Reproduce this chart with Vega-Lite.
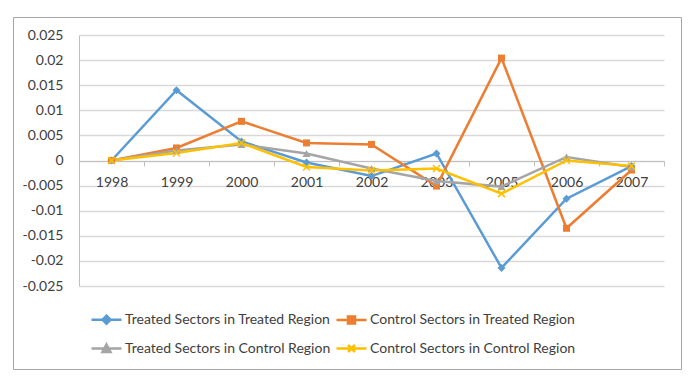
{
  "$schema": "https://vega.github.io/schema/vega-lite/v6.json",
  "width": 668,
  "height": 352,
  "autosize": {"type": "none"},
  "padding": {"left": 13, "top": 17, "right": 15, "bottom": 20},
  "background": "white",
  "config": {
    "view": {"stroke": "#a6a6a6", "strokeWidth": 1},
    "font": "Lato",
    "axis": {"labelFont": "Lato", "labelFontSize": 14, "labelColor": "#404040"},
    "legend": {"labelFont": "Lato", "labelFontSize": 14, "labelColor": "#404040"}
  },
  "data": {
    "values": [
      {"year": "1998", "series": "Treated Sectors in Treated Region", "value": 0},
      {"year": "1999", "series": "Treated Sectors in Treated Region", "value": 0.014},
      {"year": "2000", "series": "Treated Sectors in Treated Region", "value": 0.0038},
      {"year": "2001", "series": "Treated Sectors in Treated Region", "value": -0.0004},
      {"year": "2002", "series": "Treated Sectors in Treated Region", "value": -0.0031},
      {"year": "2003", "series": "Treated Sectors in Treated Region", "value": 0.0014},
      {"year": "2005", "series": "Treated Sectors in Treated Region", "value": -0.0214},
      {"year": "2006", "series": "Treated Sectors in Treated Region", "value": -0.0076},
      {"year": "2007", "series": "Treated Sectors in Treated Region", "value": -0.0011},
      {"year": "1998", "series": "Control Sectors in Treated Region", "value": 0},
      {"year": "1999", "series": "Control Sectors in Treated Region", "value": 0.0025},
      {"year": "2000", "series": "Control Sectors in Treated Region", "value": 0.0078},
      {"year": "2001", "series": "Control Sectors in Treated Region", "value": 0.0035},
      {"year": "2002", "series": "Control Sectors in Treated Region", "value": 0.0032},
      {"year": "2003", "series": "Control Sectors in Treated Region", "value": -0.0051},
      {"year": "2005", "series": "Control Sectors in Treated Region", "value": 0.0204},
      {"year": "2006", "series": "Control Sectors in Treated Region", "value": -0.0135},
      {"year": "2007", "series": "Control Sectors in Treated Region", "value": -0.0019},
      {"year": "1998", "series": "Treated Sectors in Control Region", "value": 0},
      {"year": "1999", "series": "Treated Sectors in Control Region", "value": 0.002},
      {"year": "2000", "series": "Treated Sectors in Control Region", "value": 0.0032},
      {"year": "2001", "series": "Treated Sectors in Control Region", "value": 0.0014},
      {"year": "2002", "series": "Treated Sectors in Control Region", "value": -0.0016},
      {"year": "2003", "series": "Treated Sectors in Control Region", "value": -0.0041},
      {"year": "2005", "series": "Treated Sectors in Control Region", "value": -0.0052},
      {"year": "2006", "series": "Treated Sectors in Control Region", "value": 0.0007},
      {"year": "2007", "series": "Treated Sectors in Control Region", "value": -0.0013},
      {"year": "1998", "series": "Control Sectors in Control Region", "value": 0},
      {"year": "1999", "series": "Control Sectors in Control Region", "value": 0.0015},
      {"year": "2000", "series": "Control Sectors in Control Region", "value": 0.0035},
      {"year": "2001", "series": "Control Sectors in Control Region", "value": -0.0013},
      {"year": "2002", "series": "Control Sectors in Control Region", "value": -0.002},
      {"year": "2003", "series": "Control Sectors in Control Region", "value": -0.0016},
      {"year": "2005", "series": "Control Sectors in Control Region", "value": -0.0066},
      {"year": "2006", "series": "Control Sectors in Control Region", "value": 0},
      {"year": "2007", "series": "Control Sectors in Control Region", "value": -0.0011}
    ]
  },
  "encoding": {
    "x": {
      "field": "year",
      "type": "ordinal",
      "scale": {"type": "band", "range": [66, 651], "paddingInner": 0, "paddingOuter": 0},
      "axis": {
        "title": null,
        "orient": "bottom",
        "offset": -208,
        "labelAngle": 0,
        "domainColor": "#bfbfbf",
        "domainWidth": 1,
        "tickColor": "#bfbfbf",
        "tickSize": 5,
        "tickBand": "extent",
        "labelPadding": 9,
        "grid": false
      }
    },
    "y": {
      "field": "value",
      "type": "quantitative",
      "scale": {"domain": [-0.025, 0.025], "range": [269, 18], "nice": false, "zero": false},
      "axis": {
        "title": null,
        "offset": -66,
        "values": [-0.025, -0.02, -0.015, -0.01, -0.005, 0, 0.005, 0.01, 0.015, 0.02, 0.025],
        "labelExpr": "'' + datum.value",
        "ticks": false,
        "labelPadding": 16,
        "domainColor": "#bfbfbf",
        "grid": true,
        "gridColor": "#d9d9d9",
        "gridWidth": 1.5
      }
    },
    "color": {
      "field": "series",
      "type": "nominal",
      "scale": {
        "domain": ["Treated Sectors in Treated Region", "Control Sectors in Treated Region", "Treated Sectors in Control Region", "Control Sectors in Control Region"],
        "range": ["#5b9bd5", "#ed7d31", "#a5a5a5", "#ffc000"]
      },
      "legend": {
        "title": null,
        "orient": "none",
        "direction": "horizontal",
        "legendX": 74,
        "legendY": 291,
        "columns": 2,
        "columnPadding": 0,
        "rowPadding": 8,
        "padding": 0,
        "labelLimit": 0,
        "symbolSize": 400,
        "symbolStrokeWidth": 2.5,
        "symbolOpacity": 1,
        "symbolOffset": 8,
        "labelOffset": 7
      }
    }
  },
  "layer": [
    {
      "mark": {"type": "line", "strokeWidth": 2.5}
    },
    {
      "transform": [{"filter": "datum.series === 'Treated Sectors in Treated Region'"}],
      "mark": {"type": "point", "shape": "diamond", "filled": true, "opacity": 1, "size": 64}
    },
    {
      "transform": [{"filter": "datum.series === 'Control Sectors in Treated Region'"}],
      "mark": {"type": "point", "shape": "square", "filled": true, "opacity": 1, "size": 49}
    },
    {
      "transform": [{"filter": "datum.series === 'Treated Sectors in Control Region'"}],
      "mark": {"type": "point", "shape": "triangle-up", "filled": true, "opacity": 1, "size": 64}
    },
    {
      "transform": [{"filter": "datum.series === 'Control Sectors in Control Region'"}],
      "mark": {"type": "point", "shape": "M-1,-1L1,1M-1,1L1,-1", "filled": false, "opacity": 1, "size": 49, "strokeWidth": 1.5}
    },
    {
      "mark": {"type": "point", "filled": true, "opacity": 0},
      "encoding": {
        "shape": {
          "field": "series",
          "type": "nominal",
          "scale": {
            "domain": ["Treated Sectors in Treated Region", "Control Sectors in Treated Region", "Treated Sectors in Control Region", "Control Sectors in Control Region"],
            "range": [
              "M-1.5,0H1.5M0,-0.4L0.4,0L0,0.4L-0.4,0Z",
              "M-1.5,0H1.5M-0.35,-0.35H0.35V0.35H-0.35Z",
              "M-1.5,0H1.5M0,-0.4L0.4,0.35L-0.4,0.35Z",
              "M-1.5,0H1.5M-0.35,-0.35L0.35,0.35M-0.35,0.35L0.35,-0.35"
            ]
          },
          "legend": null
        },
        "stroke": {
          "field": "series",
          "type": "nominal",
          "scale": {
            "domain": ["Treated Sectors in Treated Region", "Control Sectors in Treated Region", "Treated Sectors in Control Region", "Control Sectors in Control Region"],
            "range": ["#5b9bd5", "#ed7d31", "#a5a5a5", "#ffc000"]
          },
          "legend": null
        }
      }
    }
  ]
}
